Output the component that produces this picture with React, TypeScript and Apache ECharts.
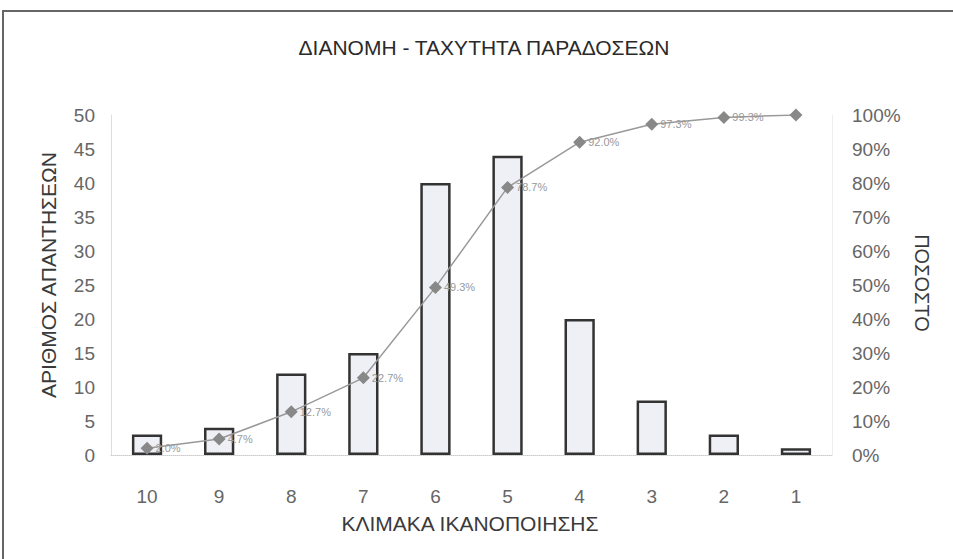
import React, { useEffect, useRef } from "react";
import * as echarts from "echarts";

const categories = ["10", "9", "8", "7", "6", "5", "4", "3", "2", "1"];
const responses = [3, 4, 12, 15, 40, 44, 20, 8, 3, 1];
const cumulativePct = [2.0, 4.7, 12.7, 22.7, 49.3, 78.7, 92.0, 97.3, 99.3, 100.0];
const title = "ΔΙΑΝΟΜΗ - ΤΑΧΥΤΗΤΑ ΠΑΡΑΔΟΣΕΩΝ";
const leftName = "ΑΡΙΘΜΟΣ ΑΠΑΝΤΗΣΕΩΝ";
const rightName = "ΠΟΣΟΣΤΟ";
const xName = "ΚΛΙΜΑΚΑ ΙΚΑΝΟΠΟΙΗΣΗΣ";

const FONT = "'Liberation Sans', Arial, sans-serif";

export default function App() {
  const ref = useRef<HTMLDivElement>(null);
  useEffect(() => {
    document.body.style.margin = "0";
    if (!ref.current) return;
    const chart = echarts.init(ref.current, undefined, { renderer: "svg" });
    chart.setOption({
      animation: false,
      backgroundColor: "#ffffff",
      textStyle: { fontFamily: FONT },
      grid: { left: 111, right: 121, top: 115, bottom: 104, containLabel: false },
      graphic: [
        {
          type: "rect",
          shape: { x: 3, y: 11, width: 970, height: 570 },
          style: { fill: "none", stroke: "#666", lineWidth: 2 },
          silent: true,
        },
        {
          type: "text",
          x: 484,
          y: 47,
          style: { text: title, font: `21px ${FONT}`, fill: "#2a2a2a", align: "center", verticalAlign: "middle" },
        },
        {
          type: "text",
          x: 48,
          y: 275,
          rotation: Math.PI / 2,
          style: { text: leftName, font: `21px ${FONT}`, fill: "#3a3a3a", align: "center", verticalAlign: "middle" },
        },
        {
          type: "text",
          x: 922,
          y: 283,
          rotation: -Math.PI / 2,
          style: { text: rightName, font: `20px ${FONT}`, fill: "#3a3a3a", align: "center", verticalAlign: "middle" },
        },
        {
          type: "text",
          x: 470,
          y: 523,
          style: { text: xName, font: `21px ${FONT}`, fill: "#3a3a3a", align: "center", verticalAlign: "middle" },
        },
      ],
      xAxis: {
        type: "category",
        data: categories,
        axisLine: { show: true, lineStyle: { color: "#ccc", type: "dotted" } },
        axisTick: { show: false },
        axisLabel: { color: "#666", fontSize: 19, margin: 32, fontFamily: FONT },
      },
      yAxis: [
        {
          type: "value",
          min: 0,
          max: 50,
          interval: 5,
          axisLine: { show: true, lineStyle: { color: "#ddd" } },
          axisTick: { show: false },
          splitLine: { show: false },
          axisLabel: { color: "#666", fontSize: 19, margin: 16, fontFamily: FONT },
        },
        {
          type: "value",
          min: 0,
          max: 100,
          interval: 10,
          axisLine: { show: true, lineStyle: { color: "#eee" } },
          axisTick: { show: false },
          splitLine: { show: false },
          axisLabel: { color: "#666", fontSize: 19, margin: 20, formatter: "{value}%", fontFamily: FONT },
        },
      ],
      series: [
        {
          type: "bar",
          data: responses,
          yAxisIndex: 0,
          barWidth: "42%",
          itemStyle: { color: "#eef0f6", borderColor: "#333", borderWidth: 2.5 },
        },
        {
          type: "line",
          data: cumulativePct,
          yAxisIndex: 1,
          symbol: "diamond",
          symbolSize: 13,
          lineStyle: { color: "#999", width: 1.5 },
          itemStyle: { color: "#888" },
          label: {
            show: true,
            position: "right",
            distance: 2,
            color: "#999",
            fontSize: 11,
            fontFamily: FONT,
            formatter: (p: any) => (p.dataIndex === cumulativePct.length - 1 ? "" : p.value.toFixed(1) + "%"),
          },
        },
      ],
    });
    return () => chart.dispose();
  }, []);
  return <div ref={ref} style={{ width: 953, height: 559 }} />;
}
